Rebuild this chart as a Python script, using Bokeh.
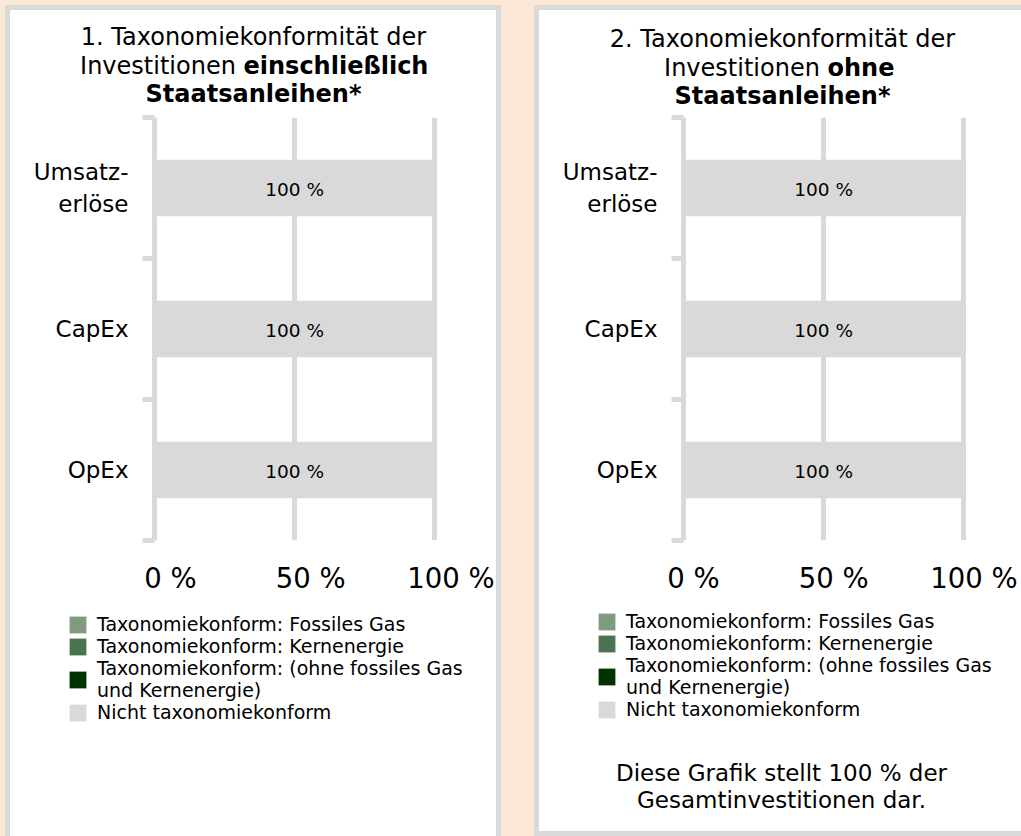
from bokeh.plotting import figure
from bokeh.models import (Range1d, FixedTicker, LinearAxis, ColumnDataSource, Legend,
                          LegendItem, Label, Grid)
from bokeh.layouts import row, column
from bokeh.core.properties import value
from bokeh.embed import file_html
from bokeh.resources import INLINE

try:
    from bokeh.models import GlobalInlineStyleSheet
except Exception:
    GlobalInlineStyleSheet = None

# ---------------- data ----------------
categories = ["Umsatzerlöse", "CapEx", "OpEx"]
category_labels = ["Umsatz-\nerlöse", "CapEx", "OpEx"]
series_names = [
    "Taxonomiekonform: Fossiles Gas",
    "Taxonomiekonform: Kernenergie",
    "Taxonomiekonform: (ohne fossiles Gas\nund Kernenergie)",
    "Nicht taxonomiekonform",
]
series_colors = ["#7F9B7F", "#4A7350", "#003300", "#D9D9D9"]

# Chart 1: including sovereign bonds
incl_fossil_gas = [0, 0, 0]
incl_nuclear = [0, 0, 0]
incl_other_aligned = [0, 0, 0]
incl_not_aligned = [100, 100, 100]

# Chart 2: excluding sovereign bonds
excl_fossil_gas = [0, 0, 0]
excl_nuclear = [0, 0, 0]
excl_other_aligned = [0, 0, 0]
excl_not_aligned = [100, 100, 100]

x_ticks = [0, 50, 100]
x_tick_labels = ["0 %", "50 %", "100 %"]

title1_lines = ["1. Taxonomiekonformität der", "Investitionen ", "einschließlich", "Staatsanleihen*"]
title2_lines = ["2. Taxonomiekonformität der", "Investitionen ", "ohne", "Staatsanleihen*"]
note_lines = ["Diese Grafik stellt 100 % der", "Gesamtinvestitionen dar."]

# ---------------- style ----------------
FONT = "DejaVu Sans"
GRID = "#D9D9D9"
PEACH = "#FBE7D5"
FRAME_W = 314
FRAME_H = 423
LEFT = 144
XMAX = 112.0
PXU = FRAME_W / XMAX
TITLE_H = 104
CHART_TOP = 3
CHART_H = 486


def no_align(f):
    try:
        f.frame_align = False
    except Exception:
        pass


def blank_fig(w, h, left=0, top=0):
    f = figure(width=w, height=h, x_range=Range1d(0, 1), y_range=Range1d(0, 1),
               output_backend="svg", toolbar_location=None, title=None,
               x_axis_location=None, y_axis_location=None,
               min_border_left=left, min_border_right=0,
               min_border_top=top, min_border_bottom=0)
    f.background_fill_color = "white"
    f.border_fill_color = "white"
    f.outline_line_color = None
    for g in f.grid:
        g.visible = False
    no_align(f)
    return f


def make_title(w, titles, split_x, mids):
    f = blank_fig(w, TITLE_H)
    cx = 243

    def lab(text, x, y, bold=False, align="center"):
        f.add_layout(Label(x=x, y=y, x_units="canvas", y_units="canvas",
                           text=text, text_align=align, text_baseline="middle",
                           text_font=FONT, text_font_size="24px", text_color="black",
                           text_font_style="bold" if bold else "normal"))
    lab(titles[0], cx, mids[0])
    lab(titles[1], split_x, mids[1], align="right")
    lab(titles[2], split_x, mids[1], bold=True, align="left")
    lab(titles[3], cx, mids[2], bold=True)
    return f


def make_chart(series, w, label_shift_px):
    n = len(categories)
    ypos = [n - i - 0.5 for i in range(n)]
    keys = ["s%d" % j for j in range(len(series))]
    data = {"y": ypos}
    for k, v in zip(keys, series):
        data[k] = v
    src = ColumnDataSource(data)

    p = figure(width=w, height=CHART_H, x_range=Range1d(0, XMAX),
               y_range=Range1d(0, n), output_backend="svg",
               toolbar_location=None, title=None, x_axis_location=None,
               y_axis_location="left",
               min_border_left=LEFT, min_border_right=w - LEFT - FRAME_W,
               min_border_top=CHART_TOP, min_border_bottom=CHART_H - CHART_TOP - FRAME_H)
    p.background_fill_color = "white"
    p.border_fill_color = "white"
    p.outline_line_color = None
    no_align(p)
    for g in p.grid:
        g.visible = False

    p.add_layout(Grid(dimension=0, ticker=FixedTicker(ticks=x_ticks[1:]),
                      grid_line_color=GRID, grid_line_width=5))

    yax = p.yaxis[0]
    yax.ticker = FixedTicker(ticks=ypos, minor_ticks=list(range(n + 1)))
    yax.major_label_overrides = {y: lab for y, lab in zip(ypos, category_labels)}
    yax.axis_line_color = GRID
    yax.axis_line_width = 5
    yax.major_tick_line_color = None
    yax.major_tick_out = 0
    yax.major_tick_in = 0
    yax.minor_tick_line_color = GRID
    yax.minor_tick_line_width = 5
    yax.minor_tick_out = 12
    yax.minor_tick_in = 0
    yax.major_label_standoff = 14
    yax.major_label_text_font = FONT
    yax.major_label_text_font_size = "23px"
    yax.major_label_text_color = "black"

    s = label_shift_px / PXU
    p.extra_x_ranges = {"lbl": Range1d(0 - s, XMAX - s)}
    xax = LinearAxis(x_range_name="lbl", ticker=FixedTicker(ticks=x_ticks),
                     major_label_overrides={t: l for t, l in zip(x_ticks, x_tick_labels)},
                     axis_line_color=None, major_tick_line_color=None,
                     minor_tick_line_color=None, major_tick_out=0, major_tick_in=0,
                     major_label_standoff=21, major_label_text_font=FONT,
                     major_label_text_font_size="27.5px", major_label_text_color="black")
    p.add_layout(xax, "below")

    p.hbar_stack(keys, y="y", height=0.4, fill_color=series_colors,
                 line_color=None, source=src)

    lx, ly, lt = [], [], []
    for i in range(n):
        start = 0
        for j in range(len(series)):
            v = series[j][i]
            if v > 0:
                lx.append(start + v / 2)
                ly.append(ypos[i])
                lt.append("%g %%" % v)
            start += v
    p.text(x=lx, y=ly, text=lt, text_align="center", text_baseline="middle",
           text_font=value(FONT), text_font_size="18.5px", text_color="black", y_offset=1)
    return p


def make_legend(w, h, top, note=None):
    f = blank_fig(w, h, left=57, top=top)
    rs = []
    for c in series_colors:
        # zero-size proxy renderer: only supplies the legend swatch colour
        rs.append(f.hbar(y=[0], left=[0], right=[0], height=0, fill_color=c, line_color=None))
    items = [LegendItem(label=value(nm), renderers=[r]) for nm, r in zip(series_names, rs)]
    leg = Legend(items=items, location="top_left", glyph_width=21, glyph_height=21,
                 label_standoff=9, spacing=0, padding=0, margin=0,
                 border_line_color=None, background_fill_alpha=0,
                 label_text_font=FONT, label_text_font_size="19px",
                 label_text_color="black", label_height=20, label_text_line_height=1.1)
    f.add_layout(leg)
    if note is not None:
        for k, t in enumerate(note):
            f.add_layout(Label(x=242, y=172 + 27 * k, x_units="canvas", y_units="canvas",
                               text=t, text_align="center", text_baseline="middle",
                               text_font=FONT, text_font_size="23px", text_color="black"))
    return f


W1, W2 = 486, 482
col1 = column(
    make_title(W1, title1_lines, 233, (26, 55, 83)),
    make_chart([incl_fossil_gas, incl_nuclear, incl_other_aligned, incl_not_aligned], W1, 16),
    make_legend(W1, 236, 13),
    spacing=0)
col2 = column(
    make_title(W2, title2_lines, 288, (28, 57.5, 85.5)),
    make_chart([excl_fossil_gas, excl_nuclear, excl_other_aligned, excl_not_aligned], W2, 10),
    make_legend(W2, 231, 10, note=note_lines),
    spacing=0)

col1.margin = (10, 0, 0, 10)
col2.margin = (10, 0, 5, 43)
col1.styles = {"outline": "5px solid %s" % GRID, "background-color": "white"}
col2.styles = {"outline": "5px solid %s" % GRID, "background-color": "white"}

p = row(col1, col2, spacing=0)
p.styles = {"background-color": PEACH}
if GlobalInlineStyleSheet is not None:
    p.stylesheets = [GlobalInlineStyleSheet(css="body { background-color: %s; }" % PEACH)]

open("out.html", "w").write(file_html(p, INLINE))
